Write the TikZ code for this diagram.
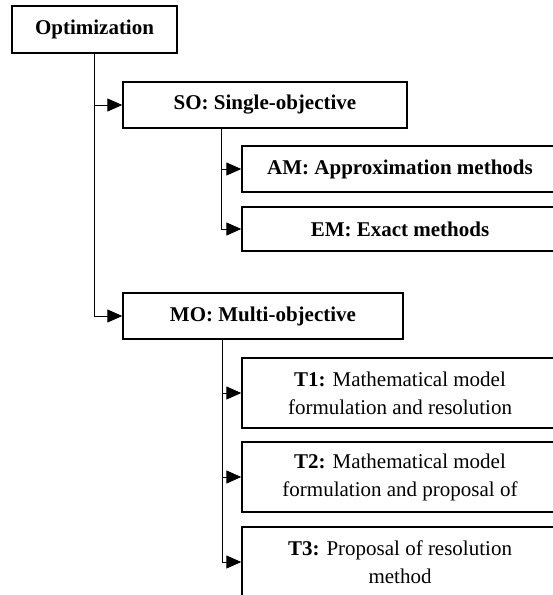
\documentclass[tikz,border=0pt]{standalone}
\usepackage{fontspec}
\setmainfont{Liberation Serif}
\usetikzlibrary{arrows.meta,calc}
\begin{document}
\begin{tikzpicture}[x=1pt,y=-1pt,
  box/.style={draw,line width=1.4pt,inner sep=0pt,align=center,
    font=\fontsize{21}{28}\selectfont},
  wide/.style={box,minimum width=316pt},
  conn/.style={line width=1pt,-{Triangle[length=15pt,width=13pt]}}]
\useasboundingbox (0,0) rectangle (553,595);
\node[box,minimum width=165pt,minimum height=47pt] (opt) at (94.5,29.5) {\textbf{Optimization}};
\node[box,minimum width=284pt,minimum height=46pt] (so) at (265,105) {\textbf{SO: Single-objective}};
\node[wide,minimum height=46pt] (am) at (400,169) {\textbf{AM: Approximation methods}};
\node[wide,minimum height=44pt] (em) at (400,229) {\textbf{EM: Exact methods}};
\node[box,minimum width=280pt,minimum height=46pt] (mo) at (263,316) {\textbf{MO: Multi-objective}};
\node[wide,minimum height=70pt] (t1) at (400,393) {\textbf{T1:} Mathematical model\\formulation and resolution};
\node[wide,minimum height=70pt] (t2) at (400,477) {\textbf{T2:} Mathematical model\\formulation and proposal of};
\node[wide,minimum height=70pt] (t3) at (400,562) {\textbf{T3:} Proposal of resolution\\method};
\coordinate (sotrunk) at ([xshift=99pt]so.south west);
\coordinate (motrunk) at ([xshift=100pt]mo.south west);
\draw[conn] (opt.south) |- (mo.west);
\draw[conn] (opt.south |- so.west) -- (so.west);
\draw[conn] (sotrunk) |- (em.west);
\draw[conn] (sotrunk |- am.west) -- (am.west);
\draw[conn] (motrunk) |- (t3.west);
\draw[conn] (motrunk |- t1.west) -- (t1.west);
\draw[conn] (motrunk |- t2.west) -- (t2.west);
\end{tikzpicture}
\end{document}
